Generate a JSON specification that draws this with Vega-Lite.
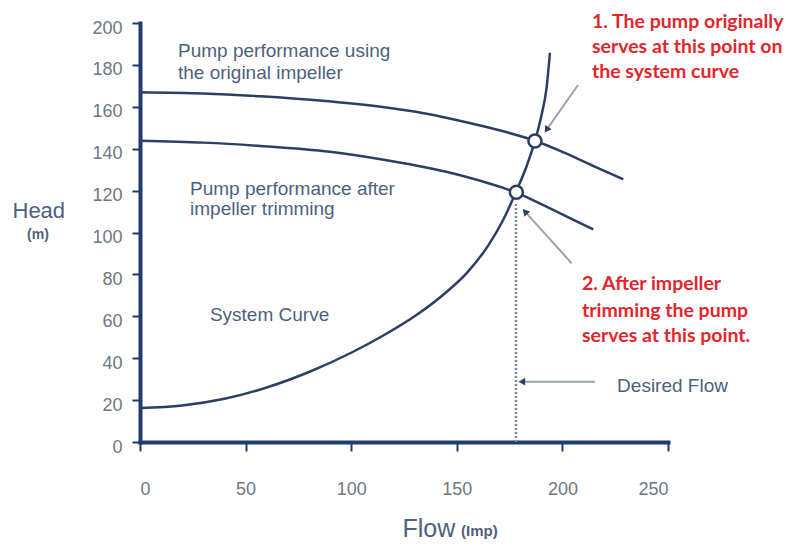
{
  "$schema": "https://vega.github.io/schema/vega-lite/v6.json",
  "width": 528,
  "height": 419,
  "autosize": {"type": "none"},
  "padding": {"left": 140, "top": 23, "right": 124, "bottom": 104},
  "background": "white",
  "config": {"view": {"stroke": null}},
  "datasets": {
    "curves": [
      {"curve": "System Curve", "flow": 0, "head": 16.2},
      {"curve": "System Curve", "flow": 20, "head": 17.4},
      {"curve": "System Curve", "flow": 40, "head": 20.6},
      {"curve": "System Curve", "flow": 60, "head": 26},
      {"curve": "System Curve", "flow": 80, "head": 33.4},
      {"curve": "System Curve", "flow": 100, "head": 42.6},
      {"curve": "System Curve", "flow": 115, "head": 50.7},
      {"curve": "System Curve", "flow": 130, "head": 60},
      {"curve": "System Curve", "flow": 145, "head": 71.5},
      {"curve": "System Curve", "flow": 155, "head": 81},
      {"curve": "System Curve", "flow": 165, "head": 94},
      {"curve": "System Curve", "flow": 172, "head": 106.1},
      {"curve": "System Curve", "flow": 178, "head": 119.3},
      {"curve": "System Curve", "flow": 183, "head": 131.5},
      {"curve": "System Curve", "flow": 187, "head": 143.7},
      {"curve": "System Curve", "flow": 190, "head": 155.5},
      {"curve": "System Curve", "flow": 192.5, "head": 169},
      {"curve": "System Curve", "flow": 194.1, "head": 185.8},
      {"curve": "Original impeller", "flow": 0, "head": 167},
      {"curve": "Original impeller", "flow": 30, "head": 166.4},
      {"curve": "Original impeller", "flow": 57, "head": 165},
      {"curve": "Original impeller", "flow": 85, "head": 163},
      {"curve": "Original impeller", "flow": 114, "head": 160},
      {"curve": "Original impeller", "flow": 135, "head": 156.8},
      {"curve": "Original impeller", "flow": 155, "head": 152.5},
      {"curve": "Original impeller", "flow": 172, "head": 148.3},
      {"curve": "Original impeller", "flow": 187, "head": 143.8},
      {"curve": "Original impeller", "flow": 200, "head": 138.5},
      {"curve": "Original impeller", "flow": 215, "head": 131.6},
      {"curve": "Original impeller", "flow": 228.8, "head": 125.4},
      {"curve": "Trimmed impeller", "flow": 0, "head": 143.8},
      {"curve": "Trimmed impeller", "flow": 30, "head": 142.9},
      {"curve": "Trimmed impeller", "flow": 57, "head": 141.3},
      {"curve": "Trimmed impeller", "flow": 90, "head": 138.5},
      {"curve": "Trimmed impeller", "flow": 114, "head": 135},
      {"curve": "Trimmed impeller", "flow": 145, "head": 129},
      {"curve": "Trimmed impeller", "flow": 165, "head": 123.5},
      {"curve": "Trimmed impeller", "flow": 178.3, "head": 119},
      {"curve": "Trimmed impeller", "flow": 190, "head": 113.5},
      {"curve": "Trimmed impeller", "flow": 197.3, "head": 110},
      {"curve": "Trimmed impeller", "flow": 206, "head": 105.7},
      {"curve": "Trimmed impeller", "flow": 214.6, "head": 101.5}
    ],
    "points": [
      {"point": "original", "flow": 187, "head": 143.7},
      {"point": "trimmed", "flow": 178.2, "head": 119.2}
    ],
    "desired": [{"flow": 178, "head0": 0, "head1": 114}],
    "arrows": [
      {"id": "a1", "fromFlow": 207.4, "fromHead": 170.4, "toFlow": 192.5, "toHead": 149},
      {"id": "a2", "fromFlow": 204.4, "fromHead": 85.3, "toFlow": 182.3, "toHead": 110},
      {"id": "a3", "fromFlow": 215.4, "fromHead": 28.8, "toFlow": 180.8, "toHead": 28.8}
    ],
    "notes": [
      {"kind": "note", "flow": 18, "head": 183.8, "text": "Pump performance using"},
      {"kind": "note", "flow": 18, "head": 173.3, "text": "the original impeller"},
      {"kind": "note", "flow": 23.7, "head": 117.9, "text": "Pump performance after"},
      {"kind": "note", "flow": 23.7, "head": 108.4, "text": "impeller trimming"},
      {"kind": "note", "flow": 33.1, "head": 57.8, "text": "System Curve"},
      {"kind": "note", "flow": 225.9, "head": 23.9, "text": "Desired Flow"},
      {"kind": "red", "flow": 214, "head": 197.6, "text": "1. The pump originally"},
      {"kind": "red", "flow": 214, "head": 185.7, "text": "serves at this point on"},
      {"kind": "red", "flow": 214, "head": 173.7, "text": "the system curve"},
      {"kind": "red", "flow": 209.3, "head": 72.6, "text": "2. After impeller"},
      {"kind": "red", "flow": 209.3, "head": 59.7, "text": "trimming the pump"},
      {"kind": "red", "flow": 209.3, "head": 47.7, "text": "serves at this point."},
      {"kind": "unitm", "flow": -48.3, "head": 98.8, "text": "(m)"},
      {"kind": "unitimp", "flow": 152, "head": -44.9, "text": "(Imp)"}
    ]
  },
  "encoding": {
    "x": {
      "field": "flow", "type": "quantitative",
      "scale": {"domain": [0, 250], "nice": false, "zero": false},
      "axis": {
        "values": [0, 50, 100, 150, 200, 250],
        "grid": false,
        "domainColor": "#1f3c70", "domainWidth": 4, "domainCap": "square",
        "tickColor": "#1f3c70", "tickWidth": 2, "tickSize": 9,
        "labelFont": "Liberation Sans, sans-serif",
        "labelFontSize": 18, "labelColor": "#707782", "labelPadding": 29,
        "title": "Flow", "titleX": 262, "titleY": 94, "titleAlign": "left",
        "titleBaseline": "alphabetic", "titleAnchor": null,
        "titleFont": "Liberation Sans, sans-serif",
        "titleFontSize": 25, "titleFontWeight": "normal", "titleColor": "#4f5f7d"
      }
    },
    "y": {
      "field": "head", "type": "quantitative",
      "scale": {"domain": [0, 200], "nice": false, "zero": false},
      "axis": {
        "values": [0, 20, 40, 60, 80, 100, 120, 140, 160, 180, 200],
        "grid": false,
        "domainColor": "#1f3c70", "domainWidth": 4, "domainCap": "square",
        "tickColor": "#1f3c70", "tickWidth": 2, "tickSize": 8,
        "labelFont": "Liberation Sans, sans-serif",
        "labelFontSize": 18, "labelColor": "#707782", "labelPadding": 10,
        "labelOffset": 5,
        "title": "Head", "titleAngle": 0, "titleX": -128, "titleY": 194,
        "titleAlign": "left", "titleBaseline": "alphabetic", "titleAnchor": null,
        "titleFont": "Liberation Sans, sans-serif",
        "titleFontSize": 22, "titleFontWeight": "normal", "titleColor": "#4f5f7d"
      }
    }
  },
  "layer": [
    {
      "data": {"name": "desired"},
      "mark": {"type": "rule", "color": "#7d8aa0", "strokeWidth": 2.5, "strokeDash": [2, 2]},
      "encoding": {"y": {"field": "head0", "type": "quantitative"}, "y2": {"field": "head1"}}
    },
    {
      "data": {"name": "curves"},
      "mark": {"type": "line", "interpolate": "monotone", "color": "#2b3f63", "strokeWidth": 2.5},
      "encoding": {"detail": {"field": "curve"}}
    },
    {
      "data": {"name": "points"},
      "mark": {"type": "point", "shape": "circle", "filled": false, "fill": "white", "fillOpacity": 1, "stroke": "#2b3f63", "strokeWidth": 2.5, "size": 170, "opacity": 1}
    },
    {
      "data": {"name": "arrows"},
      "mark": {"type": "rule", "color": "#9ba3ad", "strokeWidth": 2},
      "encoding": {
        "x": {"field": "fromFlow", "type": "quantitative"},
        "y": {"field": "fromHead", "type": "quantitative"},
        "x2": {"field": "toFlow"},
        "y2": {"field": "toHead"}
      }
    },
    {
      "data": {"name": "arrows"},
      "transform": [{"filter": "datum.id === 'a1'"}],
      "mark": {"type": "point", "shape": "triangle-up", "filled": true, "color": "#2b3f63", "size": 60, "angle": 215, "opacity": 1},
      "encoding": {
        "x": {"field": "toFlow", "type": "quantitative"},
        "y": {"field": "toHead", "type": "quantitative"}
      }
    },
    {
      "data": {"name": "arrows"},
      "transform": [{"filter": "datum.id === 'a2'"}],
      "mark": {"type": "point", "shape": "triangle-up", "filled": true, "color": "#2b3f63", "size": 60, "angle": 318, "opacity": 1},
      "encoding": {
        "x": {"field": "toFlow", "type": "quantitative"},
        "y": {"field": "toHead", "type": "quantitative"}
      }
    },
    {
      "data": {"name": "arrows"},
      "transform": [{"filter": "datum.id === 'a3'"}],
      "mark": {"type": "point", "shape": "triangle-up", "filled": true, "color": "#2b3f63", "size": 60, "angle": 270, "opacity": 1},
      "encoding": {
        "x": {"field": "toFlow", "type": "quantitative"},
        "y": {"field": "toHead", "type": "quantitative"}
      }
    },
    {
      "data": {"name": "notes"},
      "transform": [{"filter": "datum.kind === 'note'"}],
      "mark": {"type": "text", "align": "left", "baseline": "alphabetic", "font": "Liberation Sans, sans-serif", "fontSize": 19, "color": "#4f5f7d"},
      "encoding": {"text": {"field": "text"}}
    },
    {
      "data": {"name": "notes"},
      "transform": [{"filter": "datum.kind === 'red'"}],
      "mark": {"type": "text", "align": "left", "baseline": "alphabetic", "font": "Lato", "fontWeight": "bold", "fontSize": 19.5, "color": "#e3262d"},
      "encoding": {"text": {"field": "text"}}
    },
    {
      "data": {"name": "notes"},
      "transform": [{"filter": "datum.kind === 'unitm'"}],
      "mark": {"type": "text", "align": "center", "baseline": "middle", "font": "Liberation Sans, sans-serif", "fontSize": 14, "fontWeight": "bold", "color": "#4f5f7d"},
      "encoding": {"text": {"field": "text"}}
    },
    {
      "data": {"name": "notes"},
      "transform": [{"filter": "datum.kind === 'unitimp'"}],
      "mark": {"type": "text", "align": "left", "baseline": "alphabetic", "font": "Liberation Sans, sans-serif", "fontSize": 15, "fontWeight": "bold", "color": "#4f5f7d"},
      "encoding": {"text": {"field": "text"}}
    }
  ]
}
